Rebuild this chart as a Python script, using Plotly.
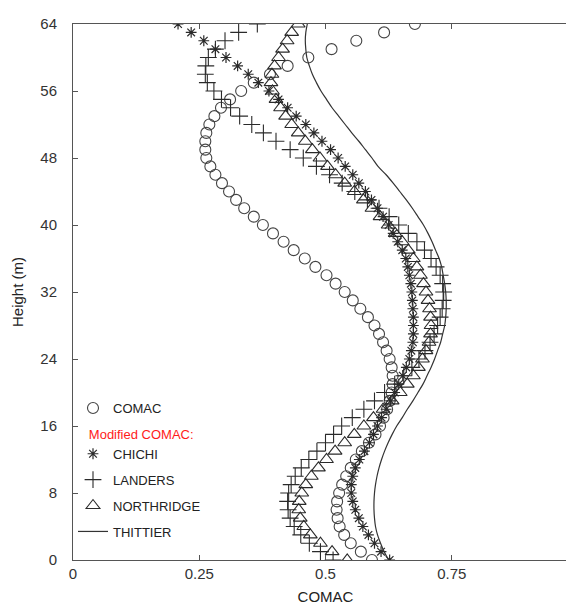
import plotly.graph_objects as go

heights = list(range(0, 65))

comac = [0.592, 0.570, 0.550, 0.537, 0.528, 0.524, 0.522, 0.523, 0.527, 0.533,
         0.541, 0.550, 0.560, 0.572, 0.586, 0.599, 0.608, 0.615, 0.622, 0.627,
         0.631, 0.633, 0.633, 0.631, 0.627, 0.621, 0.614, 0.606, 0.597, 0.584,
         0.569, 0.554, 0.538, 0.520, 0.502, 0.480, 0.459, 0.437, 0.417, 0.396,
         0.376, 0.358, 0.339, 0.323, 0.309, 0.295, 0.282, 0.272, 0.264, 0.262,
         0.262, 0.264, 0.270, 0.280, 0.293, 0.311, 0.333, 0.358, 0.390, 0.425,
         0.466, 0.512, 0.561, 0.616, 0.677]

chichi = [0.627, 0.610, 0.597, 0.585, 0.574, 0.566, 0.559, 0.554, 0.551, 0.551,
          0.554, 0.559, 0.567, 0.577, 0.587, 0.595, 0.603, 0.611, 0.620, 0.629,
          0.637, 0.645, 0.653, 0.660, 0.666, 0.670, 0.673, 0.674, 0.674, 0.674,
          0.673, 0.672, 0.671, 0.669, 0.666, 0.663, 0.659, 0.652, 0.643, 0.634,
          0.625, 0.614, 0.603, 0.591, 0.579, 0.566, 0.554, 0.539, 0.525, 0.510,
          0.493, 0.477, 0.461, 0.442, 0.425, 0.407, 0.388, 0.367, 0.347, 0.326,
          0.303, 0.282, 0.259, 0.234, 0.208]

landers = [0.515, 0.490, 0.468, 0.451, 0.438, 0.430, 0.426, 0.425, 0.427, 0.432,
           0.440, 0.452, 0.467, 0.483, 0.500, 0.516, 0.532, 0.553, 0.576, 0.597,
           0.617, 0.637, 0.655, 0.671, 0.685, 0.697, 0.707, 0.715, 0.722, 0.727,
           0.731, 0.733, 0.734, 0.732, 0.727, 0.719, 0.709, 0.696, 0.681, 0.664,
           0.645, 0.626, 0.606, 0.583, 0.558, 0.533, 0.508, 0.482, 0.456, 0.430,
           0.402, 0.377, 0.354, 0.330, 0.312, 0.294, 0.279, 0.266, 0.262, 0.263,
           0.268, 0.282, 0.301, 0.328, 0.365]

northridge = [0.543, 0.513, 0.490, 0.470, 0.457, 0.450, 0.447, 0.448, 0.453, 0.461,
              0.472, 0.486, 0.502, 0.519, 0.538, 0.557, 0.576, 0.595, 0.614, 0.632,
              0.648, 0.662, 0.674, 0.684, 0.692, 0.699, 0.705, 0.708, 0.709, 0.708,
              0.706, 0.703, 0.699, 0.694, 0.688, 0.681, 0.674, 0.664, 0.652, 0.638,
              0.624, 0.608, 0.592, 0.575, 0.557, 0.538, 0.520, 0.504, 0.489, 0.474,
              0.460, 0.446, 0.433, 0.421, 0.411, 0.402, 0.395, 0.392, 0.394, 0.399,
              0.407, 0.415, 0.424, 0.433, 0.446]

thittier = [0.625, 0.616, 0.609, 0.603, 0.599, 0.597, 0.596, 0.596, 0.597, 0.599,
            0.602, 0.606, 0.611, 0.617, 0.624, 0.632, 0.641, 0.652, 0.662, 0.673,
            0.683, 0.693, 0.701, 0.709, 0.716, 0.722, 0.728, 0.732, 0.736, 0.738,
            0.739, 0.739, 0.738, 0.736, 0.733, 0.730, 0.725, 0.718, 0.711, 0.703,
            0.694, 0.683, 0.672, 0.660, 0.647, 0.634, 0.620, 0.604, 0.592, 0.579,
            0.566, 0.552, 0.539, 0.526, 0.513, 0.502, 0.491, 0.482, 0.474, 0.468,
            0.463, 0.461, 0.460, 0.461, 0.464]

x_ticks = [0, 0.25, 0.5, 0.75, 1]
x_tick_labels = ["0", "0.25", "0.5", "0.75", "1"]
y_ticks = [0, 8, 16, 24, 32, 40, 48, 56, 64]

FONT = "Liberation Sans, Arial, sans-serif"
MC = "#2a2a2a"

fig = go.Figure()

fig.add_trace(go.Scatter(
    x=comac, y=heights, mode="markers", name="COMAC", legendgroup="g0",
    marker=dict(symbol="circle-open", size=11, color="#444444", line=dict(width=1.1)),
))
fig.add_trace(go.Scatter(
    x=chichi, y=heights, mode="markers", name="CHICHI", legendgroup="g1",
    legendgrouptitle=dict(text="\u00a0\u00a0\u00a0Modified COMAC:",
                          font=dict(color="#ff1a1a", size=13, family=FONT)),
    marker=dict(symbol="asterisk-open", size=9, color=MC, line=dict(width=1.2, color=MC)),
))
fig.add_trace(go.Scatter(
    x=landers, y=heights, mode="markers", name="LANDERS", legendgroup="g2",
    marker=dict(symbol="cross-thin-open", size=12, color=MC, line=dict(width=1.1, color=MC)),
))
fig.add_trace(go.Scatter(
    x=northridge, y=heights, mode="markers", name="NORTHRIDGE", legendgroup="g3",
    marker=dict(symbol="triangle-up-open", size=12, color=MC, line=dict(width=1.1)),
))
fig.add_trace(go.Scatter(
    x=thittier, y=heights, mode="lines", name="THITTIER", legendgroup="g4",
    line=dict(color="#333333", width=1.2, shape="spline"),
))

axis_common = dict(
    showline=True, linecolor="#555555", linewidth=1, mirror="ticks",
    ticks="inside", ticklen=5, tickcolor="#555555", tickwidth=1,
    showgrid=False, zeroline=False,
    tickfont=dict(size=15, family=FONT, color="#333333"),
    ticklabeloverflow="allow",
)

fig.update_layout(
    width=574, height=607,
    margin=dict(l=65, r=0, t=16, b=55),
    paper_bgcolor="white", plot_bgcolor="white",
    font=dict(family=FONT, color="#222222"),
    xaxis=dict(range=[0, 1], tickvals=x_ticks, ticktext=x_tick_labels,
               ticklabelstandoff=0,
               title=dict(text="COMAC", font=dict(size=15, family=FONT, color="#222222"), standoff=10),
               **axis_common),
    yaxis=dict(range=[0, 64], tickvals=y_ticks,
               ticklabelstandoff=12,
               title=dict(text="Height (m)", font=dict(size=15, family=FONT, color="#222222"), standoff=13),
               **axis_common),
    showlegend=True,
    legend=dict(x=0.0, y=0.3116, xanchor="left", yanchor="top",
                bgcolor="rgba(0,0,0,0)", borderwidth=0,
                font=dict(size=13, family=FONT, color="#222222"),
                tracegroupgap=6, itemwidth=30),
)

fig.write_html("out.html")
